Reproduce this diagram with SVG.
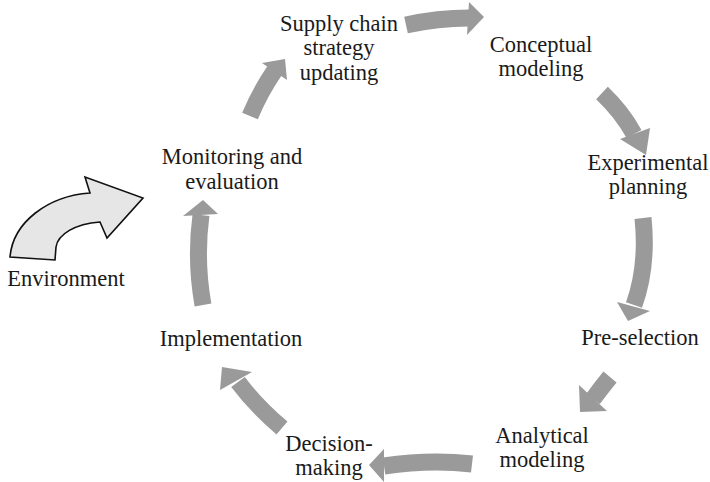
<svg xmlns="http://www.w3.org/2000/svg" width="710" height="482" viewBox="0 0 710 482">
<style>
text{font-family:"Liberation Serif","Times New Roman",serif;font-size:22.5px;fill:#1a1a1a;text-anchor:middle}
.shaft{fill:none;stroke:#9a9a9a;stroke-width:17;stroke-linecap:butt}
.head{fill:#9a9a9a}
.env{fill:#e6e6e6;stroke:#111;stroke-width:1.6;stroke-linejoin:miter}
</style>
<rect width="710" height="482" fill="#fff"/>
<g id="connectors">
  <path class="shaft" d="M406,25 Q438,18 469,18"/>
  <polygon class="head" points="469,2 484,17 467,35"/>
  <path class="shaft" d="M602,93 Q622,112 634,134"/>
  <polygon class="head" points="620,139 650,128 646,155"/>
  <path class="shaft" d="M643,218 Q648,266 634,305"/>
  <polygon class="head" points="617,302 650,311 628,321"/>
  <path class="shaft" d="M610,377 Q601,388 593,399"/>
  <polygon class="head" points="579,385 607,411 580,412"/>
  <path class="shaft" d="M472,464 Q430,459 384,466"/>
  <polygon class="head" points="384,449 369,465 384,482"/>
  <path class="shaft" d="M282,428 Q256,406 238,382"/>
  <polygon class="head" points="220,390 222,367 252,372"/>
  <path class="shaft" d="M203,305 Q195,260 201,215"/>
  <polygon class="head" points="183,216 203,200 218,214"/>
  <path class="shaft" d="M250,116 Q260,92 275,70"/>
  <polygon class="head" points="262,63 285,59 287,80"/>
</g>
<g id="environment">
  <path class="env" d="M10,257 C13,222 48,196 90,193 L85,177 L143,198 L107,238 L100,222 C75,224 58,234 56,247 L55,260 Z"/>
  <text x="66" y="286">Environment</text>
</g>
<g id="supply-chain-strategy-updating">
  <text x="339" y="31">Supply chain</text>
  <text x="339" y="55">strategy</text>
  <text x="339" y="80">updating</text>
</g>
<g id="conceptual-modeling">
  <text x="541" y="52">Conceptual</text>
  <text x="541" y="76">modeling</text>
</g>
<g id="experimental-planning">
  <text x="648" y="170">Experimental</text>
  <text x="648" y="194">planning</text>
</g>
<g id="pre-selection">
  <text x="640" y="345">Pre-selection</text>
</g>
<g id="analytical-modeling">
  <text x="542" y="443">Analytical</text>
  <text x="542" y="467">modeling</text>
</g>
<g id="decision-making">
  <text x="329" y="451">Decision-</text>
  <text x="329" y="475">making</text>
</g>
<g id="implementation">
  <text x="231" y="346">Implementation</text>
</g>
<g id="monitoring-and-evaluation">
  <text x="232" y="164">Monitoring and</text>
  <text x="232" y="189">evaluation</text>
</g>
</svg>
